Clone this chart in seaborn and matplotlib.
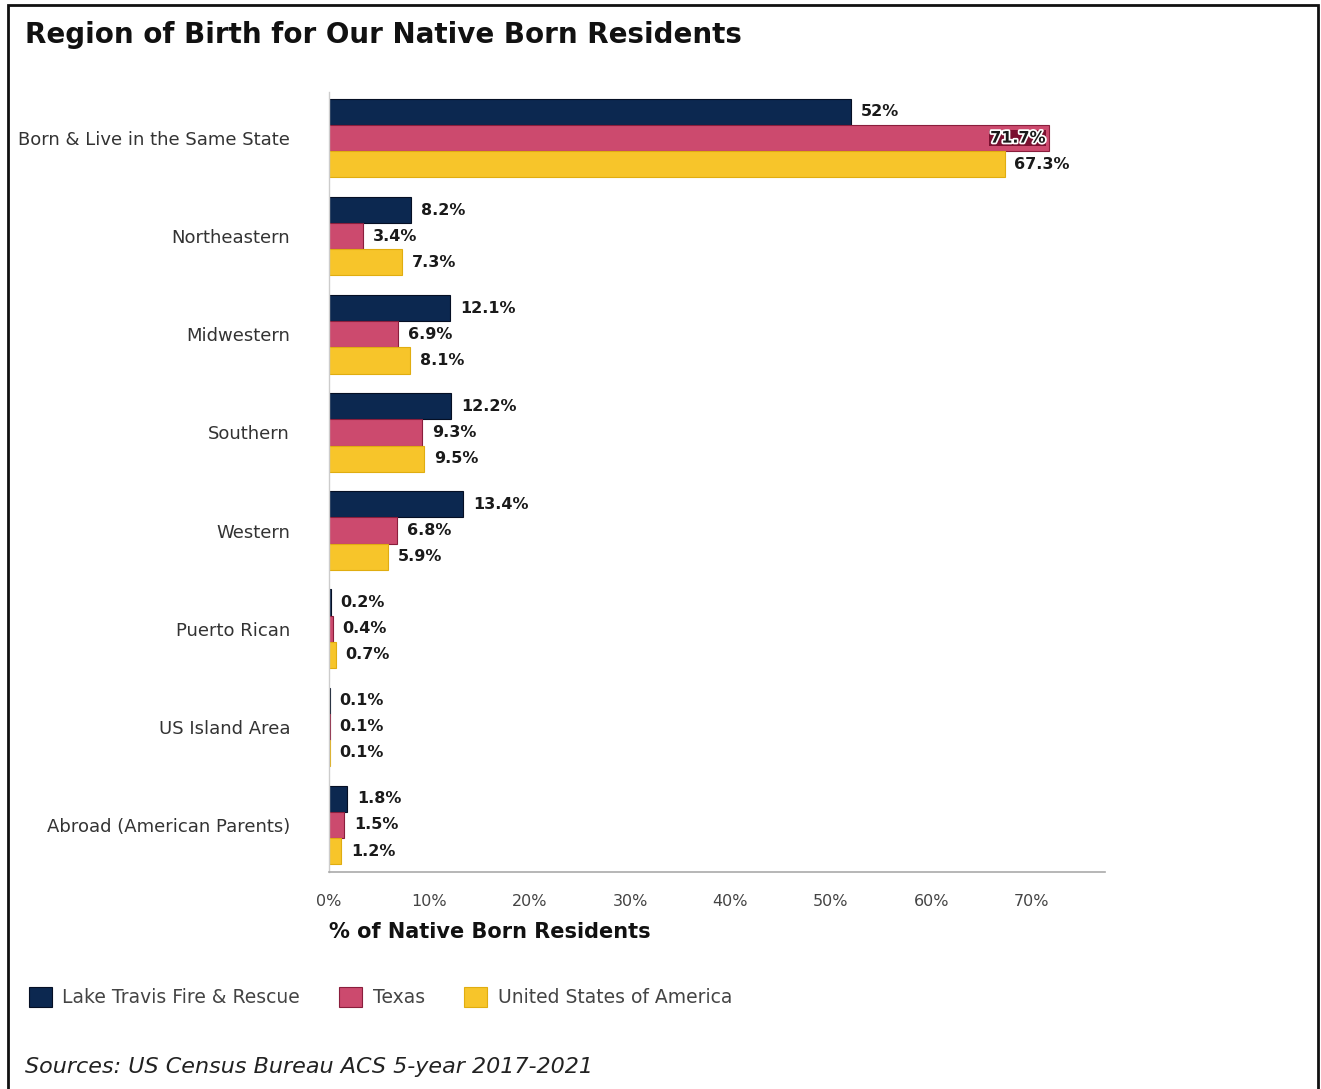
import matplotlib
matplotlib.use("Agg")
import matplotlib.pyplot as plt
import matplotlib.patheffects as pe
from matplotlib.patches import Rectangle, Patch
import pandas as pd
import seaborn as sns

# Region of birth categories and shares (% of native born residents)
regions = [
    "Born & Live in the Same State",
    "Northeastern",
    "Midwestern",
    "Southern",
    "Western",
    "Puerto Rican",
    "US Island Area",
    "Abroad (American Parents)",
]
lake_travis = [52, 8.2, 12.1, 12.2, 13.4, 0.2, 0.1, 1.8]
texas = [71.7, 3.4, 6.9, 9.3, 6.8, 0.4, 0.1, 1.5]
usa = [67.3, 7.3, 8.1, 9.5, 5.9, 0.7, 0.1, 1.2]

series_names = ["Lake Travis Fire & Rescue", "Texas", "United States of America"]
series_values = [lake_travis, texas, usa]
colors = ["#0c2850", "#cc4a6e", "#f7c52a"]
edge_colors = ["#050f24", "#8a1e3c", "#e0ad10"]
x_ticks = [0, 10, 20, 30, 40, 50, 60, 70]
x_tick_labels = ["0%", "10%", "20%", "30%", "40%", "50%", "60%", "70%"]

rows = []
for name, vals in zip(series_names, series_values):
    for reg, v in zip(regions, vals):
        rows.append({"Region": reg, "Area": name, "Share": v})
df = pd.DataFrame(rows)

sns.set_theme(style="white")
plt.rcParams["font.family"] = ["DejaVu Sans"]

fig = plt.figure(figsize=(13.21, 10.89), dpi=100)
ax = fig.add_axes([0.249, 0.1993, 0.5874, 0.7162])

sns.barplot(
    data=df, y="Region", x="Share", hue="Area", order=regions,
    hue_order=series_names, palette=colors, saturation=1, width=0.8,
    orient="h", ax=ax, legend=False, errorbar=None,
)

for cont, ec in zip(ax.containers, edge_colors):
    for bar in cont:
        bar.set_edgecolor(ec)
        bar.set_linewidth(0.8)

# Value labels at bar ends
for cont, vals in zip(ax.containers, series_values):
    labels = [f"{v:g}%" for v in vals]
    for bar, v, lab in zip(cont, vals, labels):
        yc = bar.get_y() + bar.get_height() / 2
        if v > 70:
            ax.text(v - 0.3, yc, lab, ha="right", va="center", fontsize=11.5,
                    fontweight="bold", color="#1a1a1a",
                    bbox=dict(boxstyle="square,pad=0.05", fc="#7a1030", ec="none"),
                    path_effects=[pe.withStroke(linewidth=2.5, foreground="white")])
        else:
            ax.annotate(lab, (v, yc), xytext=(7, 0), textcoords="offset points",
                        ha="left", va="center", fontsize=11.5,
                        fontweight="bold", color="#1a1a1a")

ax.set_xlim(0, 77.3)
ax.set_ylim(7.48, -0.47)
ax.set_xticks(x_ticks)
ax.set_xticklabels(x_tick_labels, fontsize=11.5, color="#444444")
ax.tick_params(axis="x", direction="in", length=7, width=1, color="#aaaaaa", pad=16)
ax.tick_params(axis="y", length=0, pad=28, labelsize=13, labelcolor="#333333")
ax.set_ylabel("")
ax.set_xlabel("% of Native Born Residents", fontsize=15, fontweight="bold",
              color="#111111")
ax.xaxis.set_label_coords(0.0, -0.064)
ax.xaxis.label.set_horizontalalignment("left")

for side in ["top", "right"]:
    ax.spines[side].set_visible(False)
ax.spines["left"].set_color("#cccccc")
ax.spines["left"].set_linewidth(1)
ax.spines["bottom"].set_color("#aaaaaa")
ax.spines["bottom"].set_linewidth(1.2)

# Title
fig.text(25 / 1321, 1 - 35 / 1089, "Region of Birth for Our Native Born Residents",
         fontsize=20, fontweight="bold", color="#111111", ha="left", va="center")

# Legend
handles = [Patch(facecolor=c, edgecolor=e, linewidth=0.8) for c, e in zip(colors, edge_colors)]
fig.legend(handles, series_names, loc="center left",
           bbox_to_anchor=(12 / 1321, 1 - 997 / 1089), ncol=3, frameon=False,
           fontsize=13.5, handlelength=1.23, handleheight=1.3, handletextpad=0.55,
           columnspacing=2.1, labelcolor="#444444")

# Source note
fig.text(25 / 1321, 1 - 1067 / 1089, "Sources: US Census Bureau ACS 5-year 2017-2021",
         fontsize=16, fontstyle="italic", color="#222222", ha="left", va="center")

# Outer frame
fig.patches.append(Rectangle((8 / 1321, -0.01), (1318 - 8) / 1321, 1 - 5 / 1089 + 0.01,
                             transform=fig.transFigure, fill=False,
                             edgecolor="#111111", linewidth=2))

fig.savefig("out.png", dpi=100)
